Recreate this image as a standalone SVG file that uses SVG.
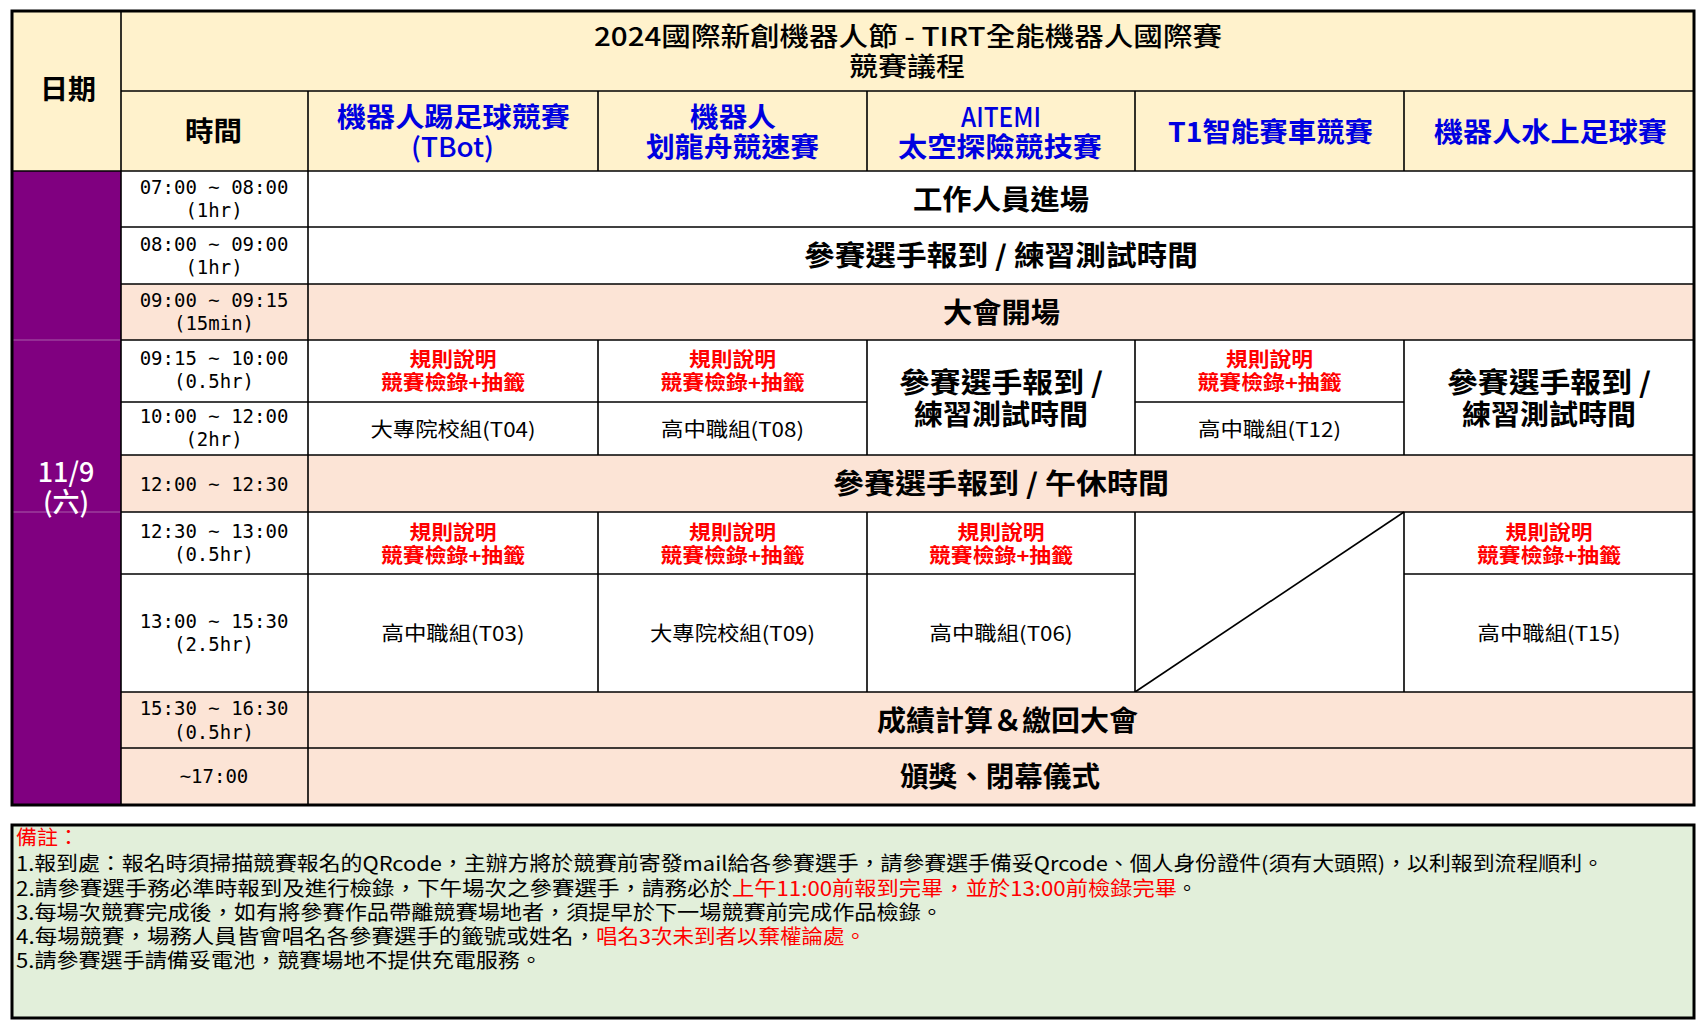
<svg xmlns="http://www.w3.org/2000/svg" width="1708" height="1027" viewBox="0 0 1708 1027">
<style>
text { font-family: "Noto Sans CJK TC", "Noto Sans CJK SC", sans-serif; dominant-baseline: central; }
.mono { font-family: "DejaVu Sans Mono", "Noto Sans CJK TC", monospace; font-size: 19px; fill: #000; text-anchor: middle; }
.hdr { font-size: 27px; font-weight: 700; fill: #000; }
.ev { font-size: 27px; font-weight: 700; fill: #0000E0; }
.big { font-size: 28px; font-weight: 700; fill: #000; }
.red { font-size: 20px; font-weight: 700; fill: #FF0000; }
.sm { font-size: 20px; fill: #000; }
.note { font-size: 20px; fill: #000; }
.nred { fill: #FF0000; }
.yel { fill: #FFF2CC; }
.wht { fill: #FFFFFF; }
.pch { fill: #FCE4D6; }
.pur { fill: #800080; }
.ln { stroke: #000; stroke-width: 1.6; fill: none; }
</style>
<rect x="0" y="0" width="1708" height="1027" fill="#FFFFFF"/>

<g id="cell-date-header"><rect class="yel" x="12" y="11" width="109" height="160"/><text class="hdr" x="40" y="87" textLength="56" lengthAdjust="spacingAndGlyphs">日期</text></g>
<g id="cell-title"><rect class="yel" x="121" y="11" width="1573" height="80"/>
<text class="hdr" x="594" y="34" textLength="628" lengthAdjust="spacingAndGlyphs" style="font-size:26px;font-weight:500">2024國際新創機器人節 - TIRT全能機器人國際賽</text>
<text class="hdr" x="849" y="64" textLength="116" lengthAdjust="spacingAndGlyphs" style="font-size:26px;font-weight:500">競賽議程</text></g>
<g id="cell-time-header"><rect class="yel" x="121" y="91" width="187" height="80"/><text class="hdr" x="185" y="129" textLength="57" lengthAdjust="spacingAndGlyphs">時間</text></g>
<g id="cell-ev1"><rect class="yel" x="308" y="91" width="290" height="80"/>
<text class="ev" x="337" y="115" textLength="233" lengthAdjust="spacingAndGlyphs">機器人踢足球競賽</text>
<text class="ev" x="411" y="145" textLength="83" lengthAdjust="spacingAndGlyphs" style="font-weight:500">(TBot)</text></g>
<g id="cell-ev2"><rect class="yel" x="598" y="91" width="269" height="80"/>
<text class="ev" x="690" y="115" textLength="86" lengthAdjust="spacingAndGlyphs">機器人</text>
<text class="ev" x="646" y="145" textLength="173" lengthAdjust="spacingAndGlyphs">划龍舟競速賽</text></g>
<g id="cell-ev3"><rect class="yel" x="867" y="91" width="268" height="80"/>
<text class="ev" x="961" y="115" textLength="80" lengthAdjust="spacingAndGlyphs" style="font-weight:500">AITEMI</text>
<text class="ev" x="898" y="145" textLength="204" lengthAdjust="spacingAndGlyphs">太空探險競技賽</text></g>
<g id="cell-ev4"><rect class="yel" x="1135" y="91" width="269" height="80"/>
<text class="ev" x="1168" y="130" textLength="205" lengthAdjust="spacingAndGlyphs">T1智能賽車競賽</text></g>
<g id="cell-ev5"><rect class="yel" x="1404" y="91" width="290" height="80"/>
<text class="ev" x="1434" y="130" textLength="233" lengthAdjust="spacingAndGlyphs">機器人水上足球賽</text></g>

<g id="cell-date"><rect class="pur" x="12" y="171" width="109" height="634"/>
<line x1="12" y1="340" x2="121" y2="340" stroke="#A95CA9" stroke-width="1"/>
<line x1="12" y1="512" x2="121" y2="512" stroke="#A95CA9" stroke-width="1"/>
<text class="hdr" x="66" y="470" text-anchor="middle" style="fill:#FFFFFF;font-weight:500">11/9</text>
<text class="hdr" x="66" y="500" text-anchor="middle" style="fill:#FFFFFF;font-weight:500">(六)</text></g>

<g id="row1">
<rect class="wht" x="121" y="171" width="1573" height="56"/>
<text class="mono" x="214" y="187">07:00 ~ 08:00</text><text class="mono" x="214" y="210">(1hr)</text>
<text class="big" x="913" y="198" textLength="176" lengthAdjust="spacingAndGlyphs">工作人員進場</text></g>

<g id="row2">
<rect class="wht" x="121" y="227" width="1573" height="57"/>
<text class="mono" x="214" y="244">08:00 ~ 09:00</text><text class="mono" x="214" y="267">(1hr)</text>
<text class="big" x="804" y="254" textLength="394" lengthAdjust="spacingAndGlyphs">參賽選手報到 / 練習測試時間</text></g>

<g id="row3">
<rect class="pch" x="121" y="284" width="1573" height="56"/>
<text class="mono" x="214" y="300">09:00 ~ 09:15</text><text class="mono" x="214" y="323">(15min)</text>
<text class="big" x="943" y="311" textLength="117" lengthAdjust="spacingAndGlyphs">大會開場</text></g>

<g id="row4">
<rect class="wht" x="121" y="340" width="1573" height="115"/>
<text class="mono" x="214" y="358">09:15 ~ 10:00</text><text class="mono" x="214" y="381">(0.5hr)</text>
<text class="mono" x="214" y="416">10:00 ~ 12:00</text><text class="mono" x="214" y="439">(2hr)</text>
</g>
<g id="r4-ev1"><text class="red" x="409.5" y="358" textLength="87" lengthAdjust="spacingAndGlyphs">規則說明</text><text class="red" x="381" y="381" textLength="144" lengthAdjust="spacingAndGlyphs">競賽檢錄+抽籤</text>
<text class="sm" x="370.5" y="428" textLength="165" lengthAdjust="spacingAndGlyphs">大專院校組(T04)</text></g>
<g id="r4-ev2"><text class="red" x="689" y="358" textLength="87" lengthAdjust="spacingAndGlyphs">規則說明</text><text class="red" x="660.5" y="381" textLength="144" lengthAdjust="spacingAndGlyphs">競賽檢錄+抽籤</text>
<text class="sm" x="661" y="428" textLength="143" lengthAdjust="spacingAndGlyphs">高中職組(T08)</text></g>
<g id="r4-ev3"><text class="big" x="899" y="381" textLength="204" lengthAdjust="spacingAndGlyphs">參賽選手報到 /</text><text class="big" x="914" y="413" textLength="174" lengthAdjust="spacingAndGlyphs">練習測試時間</text></g>
<g id="r4-ev4"><text class="red" x="1226" y="358" textLength="87" lengthAdjust="spacingAndGlyphs">規則說明</text><text class="red" x="1197.5" y="381" textLength="144" lengthAdjust="spacingAndGlyphs">競賽檢錄+抽籤</text>
<text class="sm" x="1198" y="428" textLength="143" lengthAdjust="spacingAndGlyphs">高中職組(T12)</text></g>
<g id="r4-ev5"><text class="big" x="1447" y="381" textLength="204" lengthAdjust="spacingAndGlyphs">參賽選手報到 /</text><text class="big" x="1462" y="413" textLength="174" lengthAdjust="spacingAndGlyphs">練習測試時間</text></g>

<g id="row5">
<rect class="pch" x="121" y="455" width="1573" height="57"/>
<text class="mono" x="214" y="484">12:00 ~ 12:30</text>
<text class="big" x="833" y="482" textLength="336" lengthAdjust="spacingAndGlyphs">參賽選手報到 / 午休時間</text></g>

<g id="row6">
<rect class="wht" x="121" y="512" width="1573" height="180"/>
<text class="mono" x="214" y="531">12:30 ~ 13:00</text><text class="mono" x="214" y="554">(0.5hr)</text>
<text class="mono" x="214" y="621">13:00 ~ 15:30</text><text class="mono" x="214" y="644">(2.5hr)</text>
</g>
<g id="r6-ev1"><text class="red" x="409.5" y="531" textLength="87" lengthAdjust="spacingAndGlyphs">規則說明</text><text class="red" x="381" y="554" textLength="144" lengthAdjust="spacingAndGlyphs">競賽檢錄+抽籤</text>
<text class="sm" x="381.5" y="632" textLength="143" lengthAdjust="spacingAndGlyphs">高中職組(T03)</text></g>
<g id="r6-ev2"><text class="red" x="689" y="531" textLength="87" lengthAdjust="spacingAndGlyphs">規則說明</text><text class="red" x="660.5" y="554" textLength="144" lengthAdjust="spacingAndGlyphs">競賽檢錄+抽籤</text>
<text class="sm" x="650" y="632" textLength="165" lengthAdjust="spacingAndGlyphs">大專院校組(T09)</text></g>
<g id="r6-ev3"><text class="red" x="957.5" y="531" textLength="87" lengthAdjust="spacingAndGlyphs">規則說明</text><text class="red" x="929" y="554" textLength="144" lengthAdjust="spacingAndGlyphs">競賽檢錄+抽籤</text>
<text class="sm" x="929.5" y="632" textLength="143" lengthAdjust="spacingAndGlyphs">高中職組(T06)</text></g>
<g id="r6-ev4"><line class="ln" x1="1135" y1="692" x2="1404" y2="512"/></g>
<g id="r6-ev5"><text class="red" x="1505.5" y="531" textLength="87" lengthAdjust="spacingAndGlyphs">規則說明</text><text class="red" x="1477" y="554" textLength="144" lengthAdjust="spacingAndGlyphs">競賽檢錄+抽籤</text>
<text class="sm" x="1477.5" y="632" textLength="143" lengthAdjust="spacingAndGlyphs">高中職組(T15)</text></g>

<g id="row7">
<rect class="pch" x="121" y="692" width="1573" height="56"/>
<text class="mono" x="214" y="708">15:30 ~ 16:30</text><text class="mono" x="214" y="732">(0.5hr)</text>
<text class="big" x="877" y="719" textLength="261" lengthAdjust="spacingAndGlyphs">成績計算＆繳回大會</text></g>

<g id="row8">
<rect class="pch" x="121" y="748" width="1573" height="57"/>
<text class="mono" x="214" y="776">~17:00</text>
<text class="big" x="900" y="775" textLength="200" lengthAdjust="spacingAndGlyphs">頒獎、閉幕儀式</text></g>

<g id="grid">
<line class="ln" x1="121" y1="91" x2="1694" y2="91"/>
<line class="ln" x1="12" y1="171" x2="1694" y2="171"/>
<line class="ln" x1="121" y1="227" x2="1694" y2="227"/>
<line class="ln" x1="121" y1="284" x2="1694" y2="284"/>
<line class="ln" x1="121" y1="340" x2="1694" y2="340"/>
<line class="ln" x1="121" y1="402" x2="867" y2="402"/>
<line class="ln" x1="1135" y1="402" x2="1404" y2="402"/>
<line class="ln" x1="121" y1="455" x2="1694" y2="455"/>
<line class="ln" x1="121" y1="512" x2="1694" y2="512"/>
<line class="ln" x1="121" y1="574" x2="1135" y2="574"/>
<line class="ln" x1="1404" y1="574" x2="1694" y2="574"/>
<line class="ln" x1="121" y1="692" x2="1694" y2="692"/>
<line class="ln" x1="121" y1="748" x2="1694" y2="748"/>
<line class="ln" x1="121" y1="11" x2="121" y2="805"/>
<line class="ln" x1="308" y1="91" x2="308" y2="805"/>
<path class="ln" d="M598 91V171M867 91V171M1135 91V171M1404 91V171"/>
<path class="ln" d="M598 340V455M867 340V455M1135 340V455M1404 340V455"/>
<path class="ln" d="M598 512V692M867 512V692M1135 512V692M1404 512V692"/>
<rect x="12" y="11" width="1682" height="794" fill="none" stroke="#000" stroke-width="3"/>
</g>

<g id="notes">
<rect x="12" y="825" width="1682" height="193" fill="#E2EFDA" stroke="#000" stroke-width="3"/>
<text class="note nred" x="16" y="836" textLength="63" lengthAdjust="spacingAndGlyphs">備註：</text>
<text class="note" x="16" y="862" textLength="1588" lengthAdjust="spacingAndGlyphs">1.報到處：報名時須掃描競賽報名的QRcode，主辦方將於競賽前寄發mail給各參賽選手，請參賽選手備妥Qrcode、個人身份證件(須有大頭照)，以利報到流程順利。</text>
<text class="note" x="16" y="887" textLength="716" lengthAdjust="spacingAndGlyphs">2.請參賽選手務必準時報到及進行檢錄，下午場次之參賽選手，請務必於</text>
<text class="note nred" x="732" y="887" textLength="445" lengthAdjust="spacingAndGlyphs">上午11:00前報到完畢，並於13:00前檢錄完畢</text>
<text class="note" x="1177" y="887">。</text>
<text class="note" x="16" y="911" textLength="927" lengthAdjust="spacingAndGlyphs">3.每場次競賽完成後，如有將參賽作品帶離競賽場地者，須提早於下一場競賽前完成作品檢錄。</text>
<text class="note" x="16" y="935" textLength="580" lengthAdjust="spacingAndGlyphs">4.每場競賽，場務人員皆會唱名各參賽選手的籤號或姓名，</text>
<text class="note nred" x="596" y="935" textLength="270" lengthAdjust="spacingAndGlyphs">唱名3次未到者以棄權論處。</text>
<text class="note" x="16" y="959" textLength="526" lengthAdjust="spacingAndGlyphs">5.請參賽選手請備妥電池，競賽場地不提供充電服務。</text>
</g>
</svg>
